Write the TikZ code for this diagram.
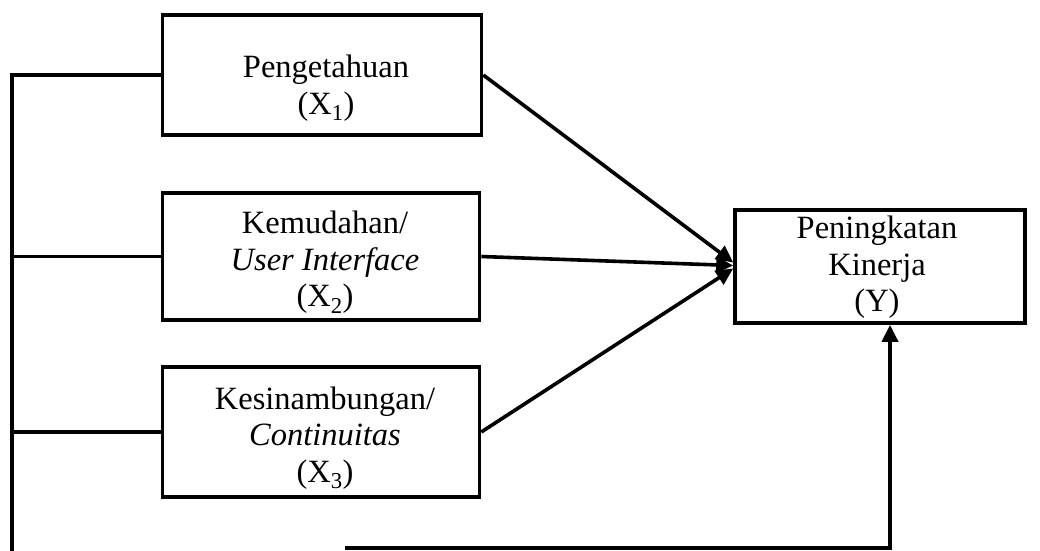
\documentclass[tikz,border=0pt]{standalone}
\usepackage{fontspec}
\setmainfont{Liberation Serif}
\usetikzlibrary{arrows.meta,calc}
\begin{document}
\begin{tikzpicture}[x=1pt,y=-1pt,
  boxnode/.style={draw,line width=3.6pt,rectangle,inner sep=0pt},
  txt/.style={align=center,font=\fontsize{32.5}{36.5}\selectfont,inner sep=0pt},
  conn/.style={line width=3.6pt},
  arr/.style={line width=3.6pt,-{Triangle[length=17pt,width=16pt]}}]
\useasboundingbox (0,0) rectangle (1040,550);
% boxes
\node[boxnode,minimum width=319pt,minimum height=120pt] (x1) at (322,75) {};
\node[boxnode,minimum width=317pt,minimum height=127pt] (x2) at (321,256.5) {};
\node[boxnode,minimum width=317pt,minimum height=130pt] (x3) at (321,432) {};
\node[boxnode,minimum width=290pt,minimum height=113pt] (y) at (880,266.5) {};
% texts
\node[txt] (t1) at ($(x1.center)+(4,13)$) {Pengetahuan\\(X\textsubscript{1})};
\node[txt] (t2) at ($(x2.center)+(4,6)$) {Kemudahan/\\\textit{User Interface}\\(X\textsubscript{2})};
\node[txt] (t3) at ($(x3.center)+(4,6)$) {Kesinambungan/\\\textit{Continuitas}\\(X\textsubscript{3})};
\node[txt] (ty) at ($(y.center)+(-3,1)$) {Peningkatan\\Kinerja\\(Y)};
% left bus
\coordinate (L) at (12,552);
\draw[conn] (x1.west) -- (x1.west -| L) -- (L);
\draw[conn] (x2.west) -- (x2.west -| L);
\draw[conn] (x3.west) -- (x3.west -| L);
% arrows to Y
\draw[arr] (x1.east) -- ($(y.west)+(0,-4)$);
\draw[arr] (x2.east) -- ($(y.west)+(0,-1)$);
\draw[arr] (x3.east) -- ($(y.west)+(0,2)$);
% bottom arrow
\coordinate (B) at (345,548);
\coordinate (yb) at ($(y.south)+(10,0)$);
\draw[arr] (B) -- (B -| yb) -- (yb);
\end{tikzpicture}
\end{document}
